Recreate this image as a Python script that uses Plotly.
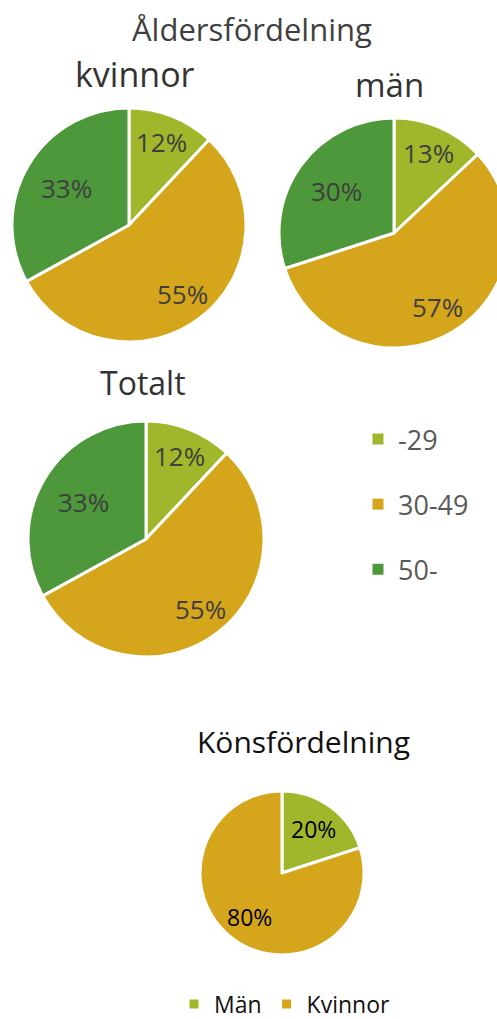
import math
import plotly.graph_objects as go

# Canvas size in pixels (a little wider than the page so the right pie can bleed off the edge)
W, H = 510, 1019

# Age distribution (%)
age_groups = ["-29", "30-49", "50-"]
kvinnor_pct = [12, 55, 33]
man_pct = [13, 57, 30]
totalt_pct = [12, 55, 33]

# Gender distribution (%)
kon_labels = ["Män", "Kvinnor"]
kon_pct = [20, 80]

age_colors = ["#a0b72b", "#d5a61b", "#4d983a"]
kon_colors = ["#a0b72b", "#d5a61b"]

# Distance of each percent label from the pie centre, as a fraction of the radius
age_label_radius = [0.76, 0.75, 0.62]
kon_label_radius = [0.66, 0.67]

FONT = "Open Sans"
TOP_TXT = "#3f3f3f"

fig = go.Figure()


def domain(cx, cy, r):
    """Pie domain from a pixel centre (cx, cy measured from the top) and radius."""
    return dict(x=[(cx - r) / W, (cx + r) / W],
                y=[(H - cy - r) / H, (H - cy + r) / H])


def slice_labels(values, cx, cy, r, fracs, size, color):
    """Percent labels at each slice's mid-angle (clockwise from 12 o'clock)."""
    total = float(sum(values))
    acc = 0.0
    for v, frac in zip(values, fracs):
        mid = (acc + v / 2.0) / total * 2 * math.pi
        acc += v
        px = cx + frac * r * math.sin(mid)
        py = cy - frac * r * math.cos(mid)
        fig.add_annotation(text=f"{round(100 * v / total)}%", x=px / W, y=(H - py) / H,
                           xref="paper", yref="paper", xanchor="center", yanchor="middle",
                           showarrow=False, font=dict(family=FONT, size=size, color=color))


def age_pie(values, cx, cy, r):
    fig.add_trace(go.Pie(
        labels=age_groups, values=values, sort=False, direction="clockwise",
        rotation=0, domain=domain(cx, cy, r),
        marker=dict(colors=age_colors, line=dict(color="white", width=3)),
        textinfo="none", showlegend=False, hoverinfo="label+percent",
    ))
    slice_labels(values, cx, cy, r, age_label_radius, 26, TOP_TXT)


age_pie(kvinnor_pct, 129, 225, 117)
age_pie(man_pct, 394, 233, 115)
age_pie(totalt_pct, 146, 539, 118)

KX, KY, KR = 282, 873, 82
fig.add_trace(go.Pie(
    labels=kon_labels, values=kon_pct, sort=False, direction="clockwise",
    rotation=0, domain=domain(KX, KY, KR),
    marker=dict(colors=kon_colors, line=dict(color="white", width=3)),
    textinfo="none", legend="legend2", showlegend=True, hoverinfo="label+percent",
))
slice_labels(kon_pct, KX, KY, KR, kon_label_radius, 23, "#000000")

# Age-group legend entries (one group each so they can be spaced apart)
for name, col in zip(age_groups, age_colors):
    fig.add_trace(go.Scatter(
        x=[None], y=[None], mode="markers", name=name, legendgroup=name,
        marker=dict(symbol="square", size=11, color=col),
        legend="legend", showlegend=True,
    ))


def title(text, cx, cy, size, color=TOP_TXT):
    fig.add_annotation(text=text, x=cx / W, y=(H - cy) / H, xref="paper", yref="paper",
                       xanchor="center", yanchor="middle", showarrow=False,
                       font=dict(family=FONT, size=size, color=color))


title("Åldersfördelning", 252, 29, 31)
title("kvinnor", 135, 74, 34, "#333333")
title("män", 389, 84, 33, "#333333")
title("Totalt", 143, 382, 32, "#333333")
title("Könsfördelning", 303, 741, 30, "#111111")

fig.update_layout(
    width=W, height=H,
    margin=dict(l=0, r=0, t=0, b=0, autoexpand=False),
    paper_bgcolor="white", plot_bgcolor="white",
    font=dict(family=FONT),
    xaxis=dict(visible=False), yaxis=dict(visible=False),
    legend=dict(
        x=358 / W, y=(H - 415) / H, xanchor="left", yanchor="top",
        orientation="v", tracegroupgap=27, bgcolor="rgba(0,0,0,0)",
        font=dict(family=FONT, size=27, color="#595959"),
    ),
    legend2=dict(
        x=174 / W, y=(H - 1004) / H, xanchor="left", yanchor="middle",
        orientation="h", bgcolor="rgba(0,0,0,0)",
        font=dict(family=FONT, size=23, color="#111111"),
    ),
)

fig.write_html(
    "out.html",
    post_script="document.documentElement.style.overflow='hidden';"
                "document.body.style.overflow='hidden';",
)
